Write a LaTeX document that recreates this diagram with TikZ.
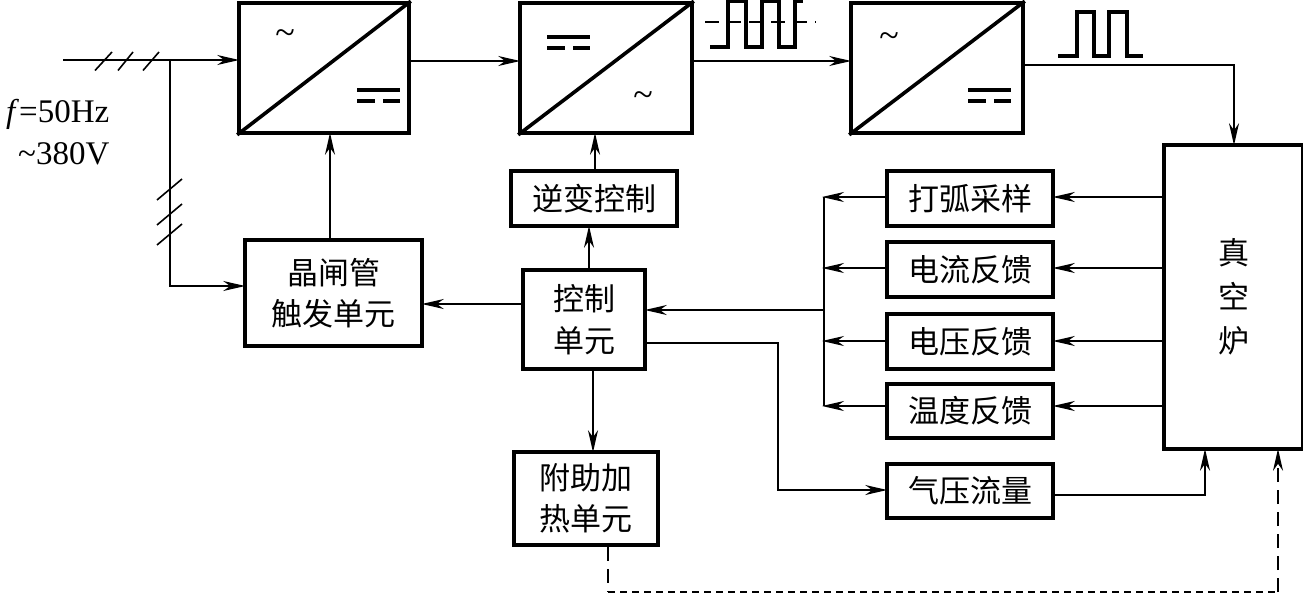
\documentclass[tikz,border=0pt]{standalone}
\usepackage{fontspec}
\setmainfont{Liberation Serif}
\newfontfamily\cjk{Noto Sans CJK SC}
\usetikzlibrary{arrows.meta,calc}
\tikzset{
  x=1pt,y=-1pt,
  tip/.style={-{Stealth[length=22pt,width=10pt,inset=7pt]},shorten >=-2pt},
  bx/.style={draw,line width=3.6pt,inner sep=0pt,align=center,font=\cjk\fontsize{31}{41.5}\selectfont},
  conv/.style={draw,line width=3.6pt,inner sep=0pt},
  wire/.style={line width=1.6pt,tip},
  plainwire/.style={line width=1.6pt},
  wave/.style={line width=3.2pt,line join=miter},
  sym/.style={inner sep=0pt,font=\fontsize{36}{38}\selectfont},
  lbl/.style={inner sep=0pt,font=\fontsize{33}{36}\selectfont},
  dc/.style={line width=3.2pt}
}
\newcommand{\boxat}[6]{\node[bx,minimum width=#4 pt,minimum height=#5 pt] (#1) at (#2,#3) {#6};}
\begin{document}
\begin{tikzpicture}
\useasboundingbox (0,0) rectangle (1303,594);
% converters
\node[conv,minimum width=170pt,minimum height=130pt] (c1) at (324,68) {};
\node[conv,minimum width=172pt,minimum height=130pt] (c2) at (606,68) {};
\node[conv,minimum width=172pt,minimum height=130pt] (c3) at (937,68) {};
\foreach \c in {c1,c2,c3} \draw[line width=3.6pt] (\c.south west) -- (\c.north east);
% boxes
\boxat{scr}{333.5}{293}{177}{106}{晶闸管\\触发单元}
\boxat{inv}{594}{198.5}{166}{55}{逆变控制}
\boxat{ctl}{584}{319.5}{122}{99}{控制\\单元}
\boxat{aux}{586}{498.5}{144}{93}{附助加\\热单元}
\boxat{arc}{970}{198.5}{166}{55}{打弧采样}
\boxat{cur}{970}{269.5}{166}{55}{电流反馈}
\boxat{vol}{970}{341.5}{166}{55}{电压反馈}
\boxat{tem}{970}{411}{166}{54}{温度反馈}
\boxat{gas}{970}{491}{166}{54}{气压流量}
\node[bx,minimum width=139pt,minimum height=304pt,font=\cjk\fontsize{31}{44}\selectfont] (vac) at (1233.5,297) {真\\空\\炉};
% labels
\node[lbl,anchor=base west] (freq) at (6,122) {\textit{f}=50Hz};
\node[lbl,anchor=base west] (volt) at (18,164) {\textasciitilde380V};
\node[sym] (t1) at (285,37) {\textasciitilde};
\node[sym] (t2) at (643,99) {\textasciitilde};
\node[sym] (t3) at (889,40) {\textasciitilde};
% dc symbols
\foreach \x/\y in {357/90,547/37,968/90}{
  \draw[dc] (\x,\y) -- ++(43,0);
  \draw[dc] (\x,\y+11) -- ++(18,0);
  \draw[dc] (\x+26,\y+11) -- ++(17,0);
}
% input
\coordinate (in) at (63,60);
\coordinate (br) at (170,60);
\draw[wire] (in) -- (c1.west |- in);
\draw[wire] (br) |- (scr.west |- 0,286);
\foreach \a/\b in {95/112,118/133,143/159} \draw[plainwire] (\a,70.5) -- (\b,52);
\foreach \y in {200,225,245} \draw[plainwire] (157,\y) -- (182,\y-21);
% main line
\draw[wire] (c1.east |- 0,61) -- (c2.west |- 0,61);
\draw[wire] (c2.east |- 0,61) -- (c3.west |- 0,61);
\draw[wire] (c3.east |- 0,65) -| (vac.north -| 1234,0);
% waveforms
\draw[wave] (710,47) -- (728,47) -- (728,1.5) -- (746,1.5) -- (746,47) -- (762,47) -- (762,1.5) -- (779,1.5) -- (779,47) -- (795,47) -- (795,1.5) -- (803,1.5);
\draw[plainwire,dash pattern=on 14pt off 8pt] (705,22) -- (816,22);
\draw[wave] (1058,56) -- (1077,56) -- (1077,12) -- (1094,12) -- (1094,56) -- (1109,56) -- (1109,12) -- (1127,12) -- (1127,56) -- (1143,56);
% control
\draw[wire] (scr.north -| 330,0) -- (c1.south -| 330,0);
\draw[wire] (ctl.west |- 0,304) -- (scr.east |- 0,304);
\draw[wire] (ctl.north -| 589,0) -- (inv.south -| 589,0);
\draw[wire] (inv.north -| 595,0) -- (c2.south -| 595,0);
\draw[wire] (ctl.south -| 593,0) -- (aux.north -| 593,0);
% feedback
\coordinate (bus) at (824,197);
\foreach \b/\y in {arc/197,cur/268,vol/341,tem/406}{
  \draw[wire] (vac.west |- 0,\y) -- (\b.east |- 0,\y);
  \draw[wire] (\b.west |- 0,\y) -- (bus |- 0,\y);
}
\draw[plainwire] (bus) -- (bus |- 0,406);
\draw[wire] (bus |- 0,310) -- (ctl.east |- 0,310);
\draw[wire] (ctl.east |- 0,343) -- (778,343) |- (gas.west |- 0,490);
\draw[wire] (gas.east |- 0,495) -| (vac.south -| 1205,0);
\coordinate (dd) at (608,592);
\draw[plainwire,dash pattern=on 14pt off 8pt] (aux.south -| dd) -- (dd);
\draw[line width=2.4pt,dash pattern=on 7pt off 5pt] (dd) -- (1278,592);
\draw[plainwire,dash pattern=on 14pt off 8pt,tip] (1278,592) -- (vac.south -| 1278,0);
\end{tikzpicture}
\end{document}
